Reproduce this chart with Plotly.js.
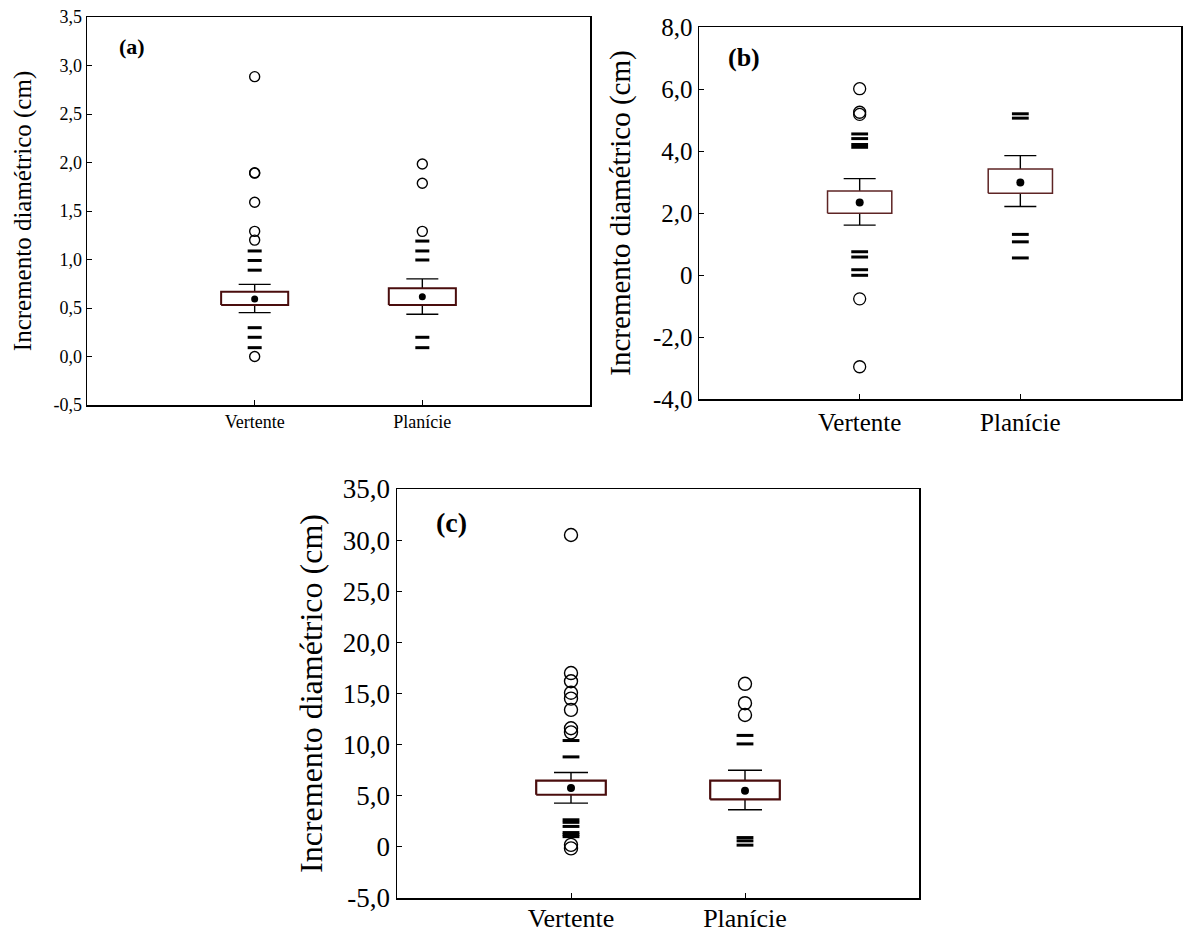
<!DOCTYPE html>
<html>
<head>
<meta charset="utf-8">
<script src="https://cdn.plot.ly/plotly-3.0.1.min.js"></script>
<style>html,body{margin:0;padding:0;background:#fff;}#chart{width:1183px;height:936px;}</style>
</head>
<body>
<div id="chart"></div>
<script>
// ---------- data ----------
const categories = ["Vertente", "Planície"];
const catPos = [1, 2];
const yTitle = "Incremento diamétrico (cm)";

// Panel (a)
const aMean   = [0.593, 0.617];
const aBoxLo  = [0.531, 0.531];
const aBoxHi  = [0.668, 0.703];
const aWhLo   = [0.452, 0.435];
const aWhHi   = [0.744, 0.800];
const aCirclesV = [2.885, 1.89, 1.895, 1.59, 1.29, 1.20, 0.0];
const aCirclesP = [1.985, 1.786, 1.29];
const aDashesV  = [1.088, 0.99, 0.89, 0.297, 0.198, 0.091];
const aDashesP  = [1.19, 1.088, 0.995, 0.198, 0.091];
const aTickVals = [-0.5, 0, 0.5, 1, 1.5, 2, 2.5, 3, 3.5];
const aTickText = ["-0,5", "0,0", "0,5", "1,0", "1,5", "2,0", "2,5", "3,0", "3,5"];

// Panel (b)
const bMean   = [2.34, 2.98];
const bBoxLo  = [1.99, 2.64];
const bBoxHi  = [2.71, 3.42];
const bWhLo   = [1.61, 2.21];
const bWhHi   = [3.11, 3.85];
const bCirclesV = [6.01, 5.25, 5.18, -0.77, -2.96];
const bCirclesP = [];
const bDashesV  = [4.55, 4.40, 4.21, 4.12, 0.75, 0.58, 0.17, -0.01];
const bDashesP  = [5.20, 5.06, 1.31, 1.07, 0.55];
const bTickVals = [-4, -2, 0, 2, 4, 6, 8];
const bTickText = ["-4,0", "-2,0", "0", "2,0", "4,0", "6,0", "8,0"];

// Panel (c)
const cMean   = [5.75, 5.49];
const cBoxLo  = [5.10, 4.64];
const cBoxHi  = [6.47, 6.47];
const cWhLo   = [4.28, 3.63];
const cWhHi   = [7.28, 7.50];
const cCirclesV = [30.5, 17.0, 16.2, 15.07, 14.5, 13.4, 11.6, 11.2, 0.2, -0.15];
const cCirclesP = [15.95, 14.05, 12.9];
const cDashesV  = [10.4, 8.8, 2.65, 2.4, 2.0, 1.4, 1.2, 1.0];
const cDashesP  = [10.9, 10.07, 0.91, 0.59, 0.17];
const cTickVals = [-5, 0, 5, 10, 15, 20, 25, 30, 35];
const cTickText = ["-5,0", "0", "5,0", "10,0", "15,0", "20,0", "25,0", "30,0", "35,0"];

// ---------- helpers ----------
const FONT = "Liberation Serif";
const BOXCOL = "#4a0d0d";
const BOXHALF = 0.2;

function panelTraces(xa, ya, mean, lo, hi, whLo, whHi, circV, circP, dashV, dashP, st) {
  const traces = [];
  traces.push({
    type: "scatter", mode: "markers", xaxis: xa, yaxis: ya,
    x: catPos, y: mean,
    marker: {size: 1, color: "rgba(0,0,0,0)"},
    error_y: {type: "data", symmetric: false,
      array: mean.map((m, i) => whHi[i] - m),
      arrayminus: mean.map((m, i) => m - whLo[i]),
      color: "#000", thickness: st.wt, width: st.cap},
    hoverinfo: "skip", showlegend: false
  });
  const bx = [], by = [];
  catPos.forEach((c, i) => {
    bx.push(c - BOXHALF, c + BOXHALF, c + BOXHALF, c - BOXHALF, c - BOXHALF, null);
    by.push(lo[i], lo[i], hi[i], hi[i], lo[i], null);
  });
  traces.push({
    type: "scatter", mode: "lines", xaxis: xa, yaxis: ya,
    x: bx, y: by, fill: "toself", fillcolor: "#ffffff",
    line: {color: st.bc, width: st.bw}, hoverinfo: "skip", showlegend: false
  });
  traces.push({
    type: "scatter", mode: "markers", xaxis: xa, yaxis: ya,
    x: catPos, y: mean, marker: {symbol: "circle", size: st.dot, color: "#000"},
    showlegend: false
  });
  traces.push({
    type: "scatter", mode: "markers", xaxis: xa, yaxis: ya,
    x: circV.map(() => catPos[0]).concat(circP.map(() => catPos[1])),
    y: circV.concat(circP),
    marker: {symbol: "circle-open", size: st.circ, color: "#000", line: {width: st.cw, color: "#000"}},
    showlegend: false
  });
  traces.push({
    type: "scatter", mode: "markers", xaxis: xa, yaxis: ya,
    x: dashV.map(() => catPos[0]).concat(dashP.map(() => catPos[1])),
    y: dashV.concat(dashP),
    marker: {symbol: "line-ew", size: st.dash, color: "#000", line: {width: st.dw, color: "#000"}},
    showlegend: false
  });
  return traces;
}

const stA = {wt: 1.4, cap: 16, bw: 2, bc: BOXCOL, dot: 7, circ: 10, cw: 1.4, dash: 10, dw: 3};
const stB = {wt: 1.4, cap: 16, bw: 1.5, bc: "#5e2424", dot: 8, circ: 12, cw: 1.3, dash: 12, dw: 3};
const stC = {wt: 1.4, cap: 17, bw: 2.2, bc: BOXCOL, dot: 8, circ: 13, cw: 1.4, dash: 12, dw: 3};

const data = []
  .concat(panelTraces("x", "y", aMean, aBoxLo, aBoxHi, aWhLo, aWhHi, aCirclesV, aCirclesP, aDashesV, aDashesP, stA))
  .concat(panelTraces("x2", "y2", bMean, bBoxLo, bBoxHi, bWhLo, bWhHi, bCirclesV, bCirclesP, bDashesV, bDashesP, stB))
  .concat(panelTraces("x3", "y3", cMean, cBoxLo, cBoxHi, cWhLo, cWhHi, cCirclesV, cCirclesP, cDashesV, cDashesP, stC));

const W = 1183, H = 936;
function xdom(l, r) { return [l / W, r / W]; }
function ydom(t, b) { return [1 - b / H, 1 - t / H]; }

function xax(dom, anchor, fs, lso) {
  return {domain: dom, anchor: anchor, range: [0, 3], tickvals: catPos, ticktext: categories,
    ticks: "inside", ticklen: 5, tickcolor: "#000", showgrid: false, zeroline: false,
    showline: true, mirror: true, linecolor: "#000", linewidth: 1.5,
    ticklabelstandoff: lso,
    tickfont: {family: FONT, size: fs, color: "#000"}, automargin: false, fixedrange: true};
}
function yax(dom, anchor, rng, tv, tt, fs, tfs, standoff) {
  return {domain: dom, anchor: anchor, range: rng, tickvals: tv, ticktext: tt,
    ticks: "inside", ticklen: 5, tickcolor: "#000", showgrid: false, zeroline: false,
    showline: true, mirror: true, linecolor: "#000", linewidth: 1.5,
    tickfont: {family: FONT, size: fs, color: "#000"},
    title: {text: yTitle, font: {family: FONT, size: tfs, color: "#000"}, standoff: standoff},
    automargin: false, fixedrange: true};
}

const layout = {
  width: W, height: H, margin: {l: 0, r: 0, t: 0, b: 0},
  paper_bgcolor: "#fff", plot_bgcolor: "#fff", showlegend: false,
  font: {family: FONT, color: "#000"},
  xaxis:  xax(xdom(87, 590), "y", 18, 0),
  yaxis:  yax(ydom(17, 405), "x", [-0.5, 3.5], aTickVals, aTickText, 18, 25, 14),
  xaxis2: xax(xdom(699, 1181), "y2", 25, 0),
  yaxis2: yax(ydom(27, 399), "x2", [-4, 8], bTickVals, bTickText, 25, 29, 14),
  xaxis3: xax(xdom(397, 919), "y3", 26, -4),
  yaxis3: yax(ydom(489, 898), "x3", [-5, 35], cTickVals, cTickText, 27, 32, 10),
  annotations: [
    {text: "<b>(a)</b>", xref: "x domain", yref: "y domain", x: 0.09, y: 0.925, xanchor: "center", yanchor: "middle", showarrow: false, font: {family: FONT, size: 22, color: "#000"}},
    {text: "<b>(b)</b>", xref: "x2 domain", yref: "y2 domain", x: 0.093, y: 0.917, xanchor: "center", yanchor: "middle", showarrow: false, font: {family: FONT, size: 26, color: "#000"}},
    {text: "<b>(c)</b>", xref: "x3 domain", yref: "y3 domain", x: 0.105, y: 0.917, xanchor: "center", yanchor: "middle", showarrow: false, font: {family: FONT, size: 28, color: "#000"}}
  ]
};

Plotly.newPlot("chart", data, layout, {displayModeBar: false, staticPlot: true});
</script>
</body>
</html>
